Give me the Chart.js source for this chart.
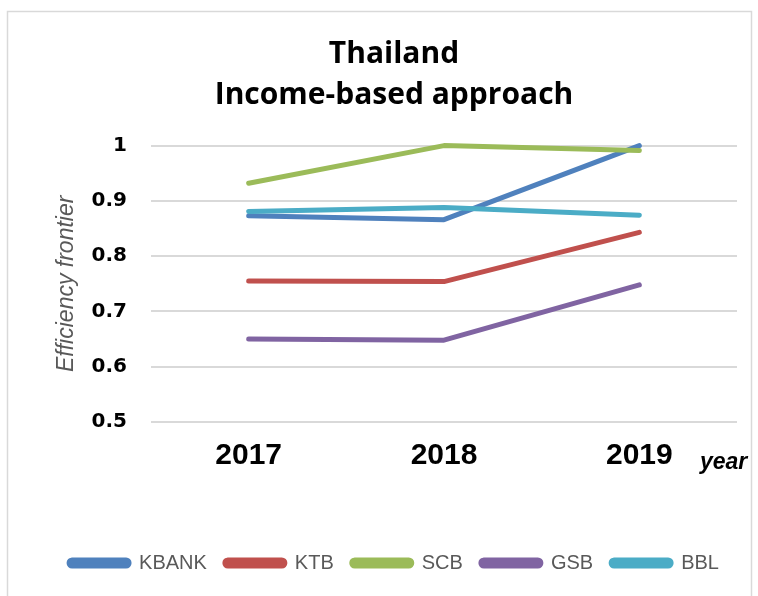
<!DOCTYPE html>
<html>
<head>
<meta charset="utf-8">
<script src="https://cdn.jsdelivr.net/npm/chart.js@4/dist/chart.umd.min.js"></script>
<style>
  html, body { margin: 0; padding: 0; background: #fff; }
  #wrap { width: 758px; height: 596px; }
</style>
</head>
<body>
<div id="wrap"><canvas id="chart_canvas" width="758" height="596"></canvas></div>
<script>
const years = ['2017', '2018', '2019'];
const kbank = [0.873, 0.866, 1.0];
const ktb = [0.755, 0.754, 0.843];
const scb = [0.932, 1.0, 0.991];
const gsb = [0.650, 0.648, 0.748];
const bbl = [0.881, 0.888, 0.874];

const ctx_chart = document.getElementById('chart_canvas').getContext('2d');

// grey frame round the chart, like the Excel chart border
const framePlugin = {
    id: 'frame',
    beforeDraw(chart) {
        const c = chart.ctx;
        c.save();
        c.strokeStyle = '#d9d9d9';
        c.lineWidth = 1.5;
        c.strokeRect(7.5, 11.5, 744, 600);
        c.restore();
    }
};

// "year" label sitting to the right of the category labels
const yearLabel = {
    id: 'yearLabel',
    afterDraw(chart) {
        const c = chart.ctx;
        c.save();
        c.font = 'italic bold 23px "Liberation Sans"';
        c.fillStyle = '#000';
        c.textAlign = 'left';
        c.textBaseline = 'alphabetic';
        c.fillText('year', chart.chartArea.right - 37, chart.chartArea.bottom + 47);
        c.restore();
    }
};

function line(label, data, color, order) {
    return {
        label: label, data: data, order: order,
        borderColor: color, backgroundColor: color,
        borderWidth: 5, pointRadius: 0, tension: 0,
        borderCapStyle: 'round', borderJoinStyle: 'round', clip: false
    };
}

const config = {
    type: 'line',
    data: {
        labels: years,
        datasets: [
            line('KBANK', kbank, '#4f81bd', 5),
            line('KTB', ktb, '#c0504d', 4),
            line('SCB', scb, '#9bbb59', 3),
            line('GSB', gsb, '#8064a2', 2),
            line('BBL', bbl, '#4bacc6', 1)
        ]
    },
    options: {
        responsive: false,
        animation: false,
        layout: { padding: { left: 51, right: 21, top: 0, bottom: 13 } },
        plugins: {
            title: {
                display: true,
                text: ['Thailand', 'Income-based approach'],
                color: '#000',
                font: { family: '"Open Sans"', size: 30, weight: 'bold', lineHeight: 1.36 },
                padding: { top: 34, bottom: 30 }
            },
            legend: {
                position: 'bottom',
                labels: {
                    boxWidth: 60, boxHeight: 6,
                    useBorderRadius: true, borderRadius: 3,
                    padding: 18,
                    color: '#595959',
                    font: { family: '"Liberation Sans"', size: 20 },
                    sort: (a, b) => a.datasetIndex - b.datasetIndex
                }
            },
            tooltip: { enabled: false }
        },
        scales: {
            x: {
                offset: true,
                grid: { display: false },
                border: { display: false },
                ticks: {
                    color: '#000', padding: 8,
                    font: { family: '"Liberation Sans"', size: 30, weight: 'bold' }
                },
                afterFit(scale) { scale.height = 113; }
            },
            y: {
                min: 0.5, max: 1,
                ticks: {
                    stepSize: 0.1, color: '#000', padding: 24,
                    font: { family: '"DejaVu Sans"', size: 20, weight: 'bold' },
                    callback: (v) => String(Math.round(v * 10) / 10)
                },
                grid: { color: '#d9d9d9', lineWidth: 2, drawTicks: false },
                border: { display: false },
                title: {
                    display: true,
                    text: 'Efficiency frontier',
                    color: '#595959',
                    font: { family: '"Liberation Sans"', size: 23, style: 'italic' },
                    padding: { top: 2, bottom: 0 }
                },
                afterFit(scale) { scale.width = 100; }
            }
        }
    },
    plugins: [framePlugin, yearLabel]
};

const chart_main = new Chart(ctx_chart, config);
</script>
</body>
</html>
